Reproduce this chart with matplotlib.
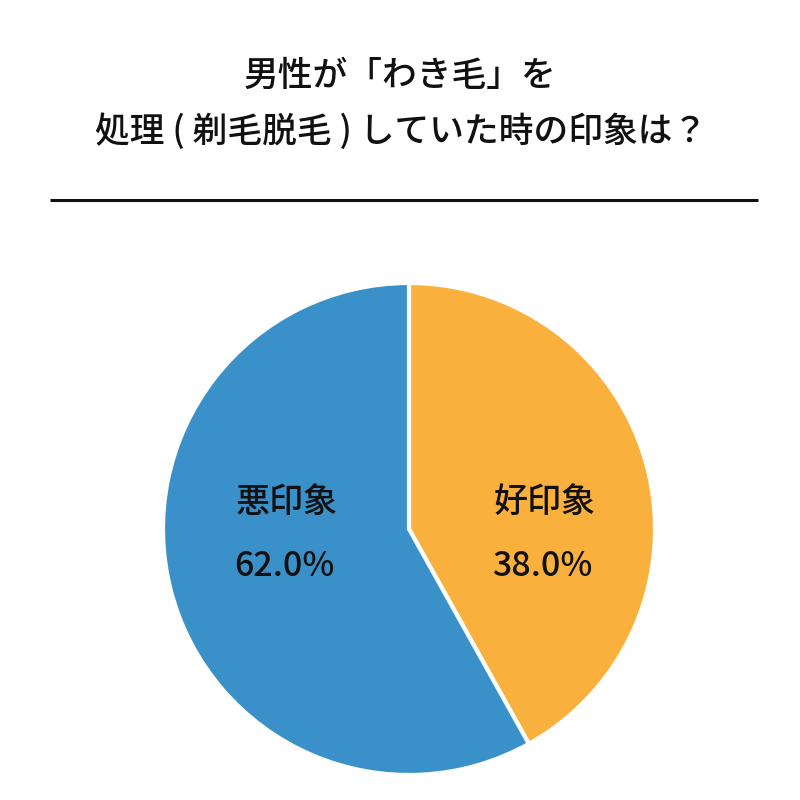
import matplotlib
matplotlib.use("Agg")
import matplotlib.pyplot as plt

plt.rcParams['font.family'] = ['Noto Sans CJK JP', 'DejaVu Sans']

# data
labels = ['好印象', '悪印象']
label_pcts = [38.0, 62.0]          # printed on the chart
slice_sizes = [41.9, 58.1]         # as drawn in the picture (wedge angles)
colors = ['#fab03c', '#3a91c9']
title_lines = ['男性が「わき毛」を', '処理 ( 剃毛脱毛 ) していた時の印象は？']

fig = plt.figure(figsize=(8, 8), dpi=100)
ax = fig.add_axes([0, 0, 1, 1])

# title + rule
ax.text(400, 800 - 76, title_lines[0], ha='center', va='center', fontsize=25,
        fontweight='medium', color='#111111')
ax.text(401, 800 - 132, title_lines[1], ha='center', va='center', fontsize=25,
        fontweight='medium', color='#111111')
ax.plot([50, 758], [800 - 200, 800 - 200], color='#111111', lw=2.2, solid_capstyle='butt')

# pie
cx, cy, r = 409, 800 - 529, 246
ax.pie(slice_sizes, colors=colors, startangle=90, counterclock=False,
       center=(cx, cy), radius=r, frame=True,
       wedgeprops=dict(edgecolor='white', linewidth=3))
ax.set_xlim(0, 800)
ax.set_ylim(0, 800)
ax.set_aspect('equal')
ax.axis('off')

# slice labels
label_pos = {'好印象': (545, 502), '悪印象': (287, 502)}
for lab, pct in zip(labels, label_pcts):
    x, y = label_pos[lab]
    ax.text(x, 800 - y, lab, ha='center', va='center', fontsize=24.5,
            fontweight='medium', color='#111111')
    ax.text(x - 3, 800 - (y + 64), f'{pct:.1f}%', ha='center', va='center',
            fontsize=24.5, fontweight='medium', color='#111111')

fig.savefig('out.png', dpi=100, facecolor='white')
